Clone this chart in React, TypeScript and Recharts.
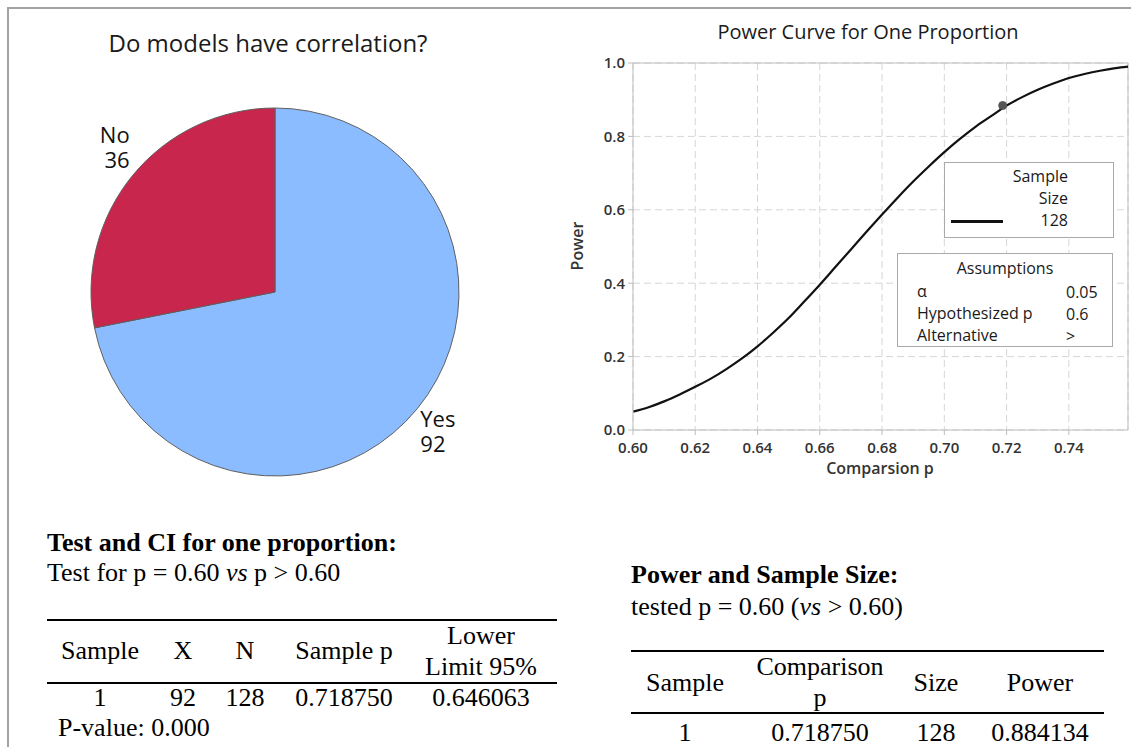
import React from 'react';
import {
  PieChart,
  Pie,
  Cell,
  LineChart,
  Line,
  XAxis,
  YAxis,
  CartesianGrid,
  ReferenceLine,
  ReferenceDot,
} from 'recharts';

const SANS = '"Open Sans", "Noto Sans", sans-serif';
const SERIF = '"Liberation Serif", "Times New Roman", serif';

// survey answers
const answerNames = ['Yes', 'No'];
const answerCounts = [92, 36];
const answerColors = ['#8bbcff', '#c8264c'];

// power curve for n = 128, H0: p = 0.6
const comparisonP = [
  0.6, 0.605, 0.61, 0.615, 0.62, 0.625, 0.63, 0.635, 0.64, 0.645, 0.65, 0.655, 0.66, 0.665, 0.67, 0.675, 0.68,
  0.685, 0.69, 0.695, 0.7, 0.705, 0.71, 0.715, 0.72, 0.725, 0.73, 0.735, 0.74, 0.745, 0.75, 0.755, 0.759,
];
const powerValues = [
  0.05, 0.062, 0.078, 0.097, 0.118, 0.14, 0.166, 0.195, 0.228, 0.265, 0.305, 0.35, 0.396, 0.444, 0.492, 0.54, 0.587,
  0.633, 0.677, 0.718, 0.757, 0.793, 0.826, 0.855, 0.884, 0.907, 0.927, 0.944, 0.959, 0.97, 0.979, 0.986, 0.99,
];
const xTicks = [0.6, 0.62, 0.64, 0.66, 0.68, 0.7, 0.72, 0.74];
const yTicks = [0, 0.2, 0.4, 0.6, 0.8, 1];
const xMax = 0.759;
const sampleSize = 128;
const sampleP = 0.71875;
const samplePower = 0.884134;

const assumptionLabels = ['α', 'Hypothesized p', 'Alternative'];
const assumptionValues = ['0.05', '0.6', '>'];

// proportion test table
const ciColumns = [['Sample'], ['X'], ['N'], ['Sample p'], ['Lower', 'Limit 95%']];
const ciValues = ['1', '92', '128', '0.718750', '0.646063'];
const pValueText = 'P-value: 0.000';

// power and sample size table
const powerColumns = [['Sample'], ['Comparison', 'p'], ['Size'], ['Power']];
const powerRowValues = ['1', '0.718750', '128', '0.884134'];

const ciColX = [100, 183, 245, 344, 481];
const powerColX = [685, 820, 936, 1040];

const pieData = answerNames.map((name, i) => ({ name, value: answerCounts[i] }));
const curveData = comparisonP.map((p, i) => ({ p, power: powerValues[i] }));

const RAD = Math.PI / 180;

type TxtProps = {
  x: number;
  y: number;
  children: React.ReactNode;
  anchor?: 'start' | 'middle' | 'end';
  size?: number;
  font?: string;
  weight?: number;
  color?: string;
  rotate?: number;
};

// absolutely placed text, y is the vertical centre of the capitals
function Txt({ x, y, children, anchor = 'start', size = 16, font = SANS, weight = 400, color = '#1a1a1a', rotate }: TxtProps) {
  const tx = anchor === 'middle' ? '-50%' : anchor === 'end' ? '-100%' : '0';
  return (
    <div
      style={{
        position: 'absolute',
        left: x,
        top: y,
        transform: `translate(${tx}, -50%)${rotate ? ` rotate(${rotate}deg)` : ''}`,
        whiteSpace: 'pre',
        lineHeight: 1,
        fontSize: size,
        fontFamily: font,
        fontWeight: weight,
        color,
      }}
    >
      {children}
    </div>
  );
}

function Rule({ x1, x2, y }: { x1: number; x2: number; y: number }) {
  return <div style={{ position: 'absolute', left: x1, top: y - 1, width: x2 - x1, height: 2, background: '#000' }} />;
}

function pieLabel(props: any) {
  const { cx, cy, midAngle, outerRadius } = props;
  const name = props.name ?? props.payload?.name;
  const value = props.value ?? props.payload?.value;
  const r = outerRadius + 4;
  const dx = Math.cos(-midAngle * RAD);
  const dy = Math.sin(-midAngle * RAD);
  const x = cx + r * dx;
  const y = cy + r * dy;
  const first = dy < 0 ? y - 30 : y + 16;
  return (
    <text x={x} y={first} textAnchor={dx >= 0 ? 'start' : 'end'} fontSize={22} fontFamily={SANS} fill="#111">
      <tspan x={x}>{name}</tspan>
      <tspan x={x} dy={25}>
        {value}
      </tspan>
    </text>
  );
}

const tickStyle = { fill: '#333', fontSize: 15, fontFamily: SANS, fontWeight: 600 };
const frameGrey = '#bdbdbd';

export default function App() {
  return (
    <div style={{ position: 'absolute', left: 0, top: 0, width: 1131, height: 747, background: '#fff', overflow: 'hidden' }}>
      {/* outer frame */}
      <div style={{ position: 'absolute', left: 7, top: 7, width: 1124, height: 2, background: '#a3a3a3' }} />
      <div style={{ position: 'absolute', left: 7, top: 7, width: 2, height: 740, background: '#a3a3a3' }} />

      {/* pie */}
      <Txt x={268} y={43} anchor="middle" size={24}>
        Do models have correlation?
      </Txt>
      <div style={{ position: 'absolute', left: 0, top: 0 }}>
        <PieChart width={560} height={520}>
          <Pie
            data={pieData}
            dataKey="value"
            nameKey="name"
            cx={270}
            cy={287}
            outerRadius={184}
            startAngle={90}
            endAngle={-270}
            stroke="#5f5f5f"
            strokeWidth={1}
            label={pieLabel}
            labelLine={false}
            isAnimationActive={false}
          >
            {pieData.map((d, i) => (
              <Cell key={d.name} fill={answerColors[i]} />
            ))}
          </Pie>
        </PieChart>
      </div>

      {/* power curve */}
      <Txt x={868} y={32} anchor="middle" size={20}>
        Power Curve for One Proportion
      </Txt>
      <div style={{ position: 'absolute', left: 560, top: 0 }}>
        <LineChart width={571} height={500} data={curveData} margin={{ top: 63, right: 3, bottom: 0, left: 0 }}>
          <CartesianGrid stroke="#d6d6d6" strokeDasharray="7 4" />
          <XAxis
            dataKey="p"
            type="number"
            domain={[0.6, xMax]}
            ticks={xTicks}
            tickFormatter={(v: number) => v.toFixed(2)}
            height={70}
            axisLine={{ stroke: frameGrey }}
            tickLine={{ stroke: frameGrey }}
            tickSize={5}
            tickMargin={7}
            tick={tickStyle}
            allowDataOverflow
          />
          <YAxis
            type="number"
            domain={[0, 1]}
            ticks={yTicks}
            tickFormatter={(v: number) => v.toFixed(1)}
            width={73}
            axisLine={{ stroke: frameGrey }}
            tickLine={{ stroke: frameGrey }}
            tickSize={5}
            tickMargin={3}
            tick={tickStyle}
          />
          <ReferenceLine y={1} stroke={frameGrey} />
          <ReferenceLine x={xMax} stroke={frameGrey} />
          <Line type="monotone" dataKey="power" stroke="#111" strokeWidth={2.2} dot={false} isAnimationActive={false} />
          <ReferenceDot x={sampleP} y={samplePower} r={4} fill="#555" stroke="#555" />
        </LineChart>
      </div>
      <Txt x={577} y={246} anchor="middle" size={16} weight={600} color="#333" rotate={-90}>
        Power
      </Txt>
      <Txt x={880} y={468} anchor="middle" size={16} weight={600} color="#333">
        Comparsion p
      </Txt>

      {/* legend: sample size */}
      <div style={{ position: 'absolute', left: 944, top: 162, width: 170, height: 76, border: '1px solid #aaa', boxSizing: 'border-box', background: '#fff' }} />
      <Txt x={1068} y={176} anchor="end">Sample</Txt>
      <Txt x={1068} y={198} anchor="end">Size</Txt>
      <Txt x={1068} y={220} anchor="end">{String(sampleSize)}</Txt>
      <div style={{ position: 'absolute', left: 951, top: 220, width: 52, height: 3, background: '#111' }} />

      {/* legend: assumptions */}
      <div style={{ position: 'absolute', left: 897, top: 253, width: 216, height: 94, border: '1px solid #aaa', boxSizing: 'border-box', background: '#fff' }} />
      <Txt x={1005} y={268} anchor="middle">Assumptions</Txt>
      {assumptionLabels.map((label, i) => (
        <React.Fragment key={label}>
          <Txt x={917} y={291 + i * 22}>{label}</Txt>
          <Txt x={1066} y={292 + i * 22}>{assumptionValues[i]}</Txt>
        </React.Fragment>
      ))}

      {/* test and CI table */}
      <Txt x={47} y={543} size={26} font={SERIF} weight={700} color="#000">
        Test and CI for one proportion:
      </Txt>
      <Txt x={47} y={573} size={26} font={SERIF} color="#000">
        Test for p = 0.60 <i>vs</i> p {'>'} 0.60
      </Txt>
      <Rule x1={47} x2={557} y={620} />
      {ciColumns.map((lines, i) =>
        lines.length === 1 ? (
          <Txt key={i} x={ciColX[i]} y={651} anchor="middle" size={26} font={SERIF} color="#000">
            {lines[0]}
          </Txt>
        ) : (
          <React.Fragment key={i}>
            <Txt x={ciColX[i]} y={636} anchor="middle" size={26} font={SERIF} color="#000">
              {lines[0]}
            </Txt>
            <Txt x={ciColX[i]} y={667} anchor="middle" size={26} font={SERIF} color="#000">
              {lines[1]}
            </Txt>
          </React.Fragment>
        )
      )}
      <Rule x1={47} x2={557} y={683} />
      {ciValues.map((v, i) => (
        <Txt key={i} x={ciColX[i]} y={698} anchor="middle" size={26} font={SERIF} color="#000">
          {v}
        </Txt>
      ))}
      <Txt x={58} y={728} size={26} font={SERIF} color="#000">
        {pValueText}
      </Txt>

      {/* power and sample size table */}
      <Txt x={631} y={575} size={26} font={SERIF} weight={700} color="#000">
        Power and Sample Size:
      </Txt>
      <Txt x={631} y={607} size={26} font={SERIF} color="#000">
        tested p = 0.60 (<i>vs</i> {'>'} 0.60)
      </Txt>
      <Rule x1={631} x2={1104} y={651} />
      {powerColumns.map((lines, i) =>
        lines.length === 1 ? (
          <Txt key={i} x={powerColX[i]} y={683} anchor="middle" size={26} font={SERIF} color="#000">
            {lines[0]}
          </Txt>
        ) : (
          <React.Fragment key={i}>
            <Txt x={powerColX[i]} y={667} anchor="middle" size={26} font={SERIF} color="#000">
              {lines[0]}
            </Txt>
            <Txt x={powerColX[i]} y={698} anchor="middle" size={26} font={SERIF} color="#000">
              {lines[1]}
            </Txt>
          </React.Fragment>
        )
      )}
      <Rule x1={631} x2={1104} y={713} />
      {powerRowValues.map((v, i) => (
        <Txt key={i} x={powerColX[i]} y={733} anchor="middle" size={26} font={SERIF} color="#000">
          {v}
        </Txt>
      ))}
    </div>
  );
}
